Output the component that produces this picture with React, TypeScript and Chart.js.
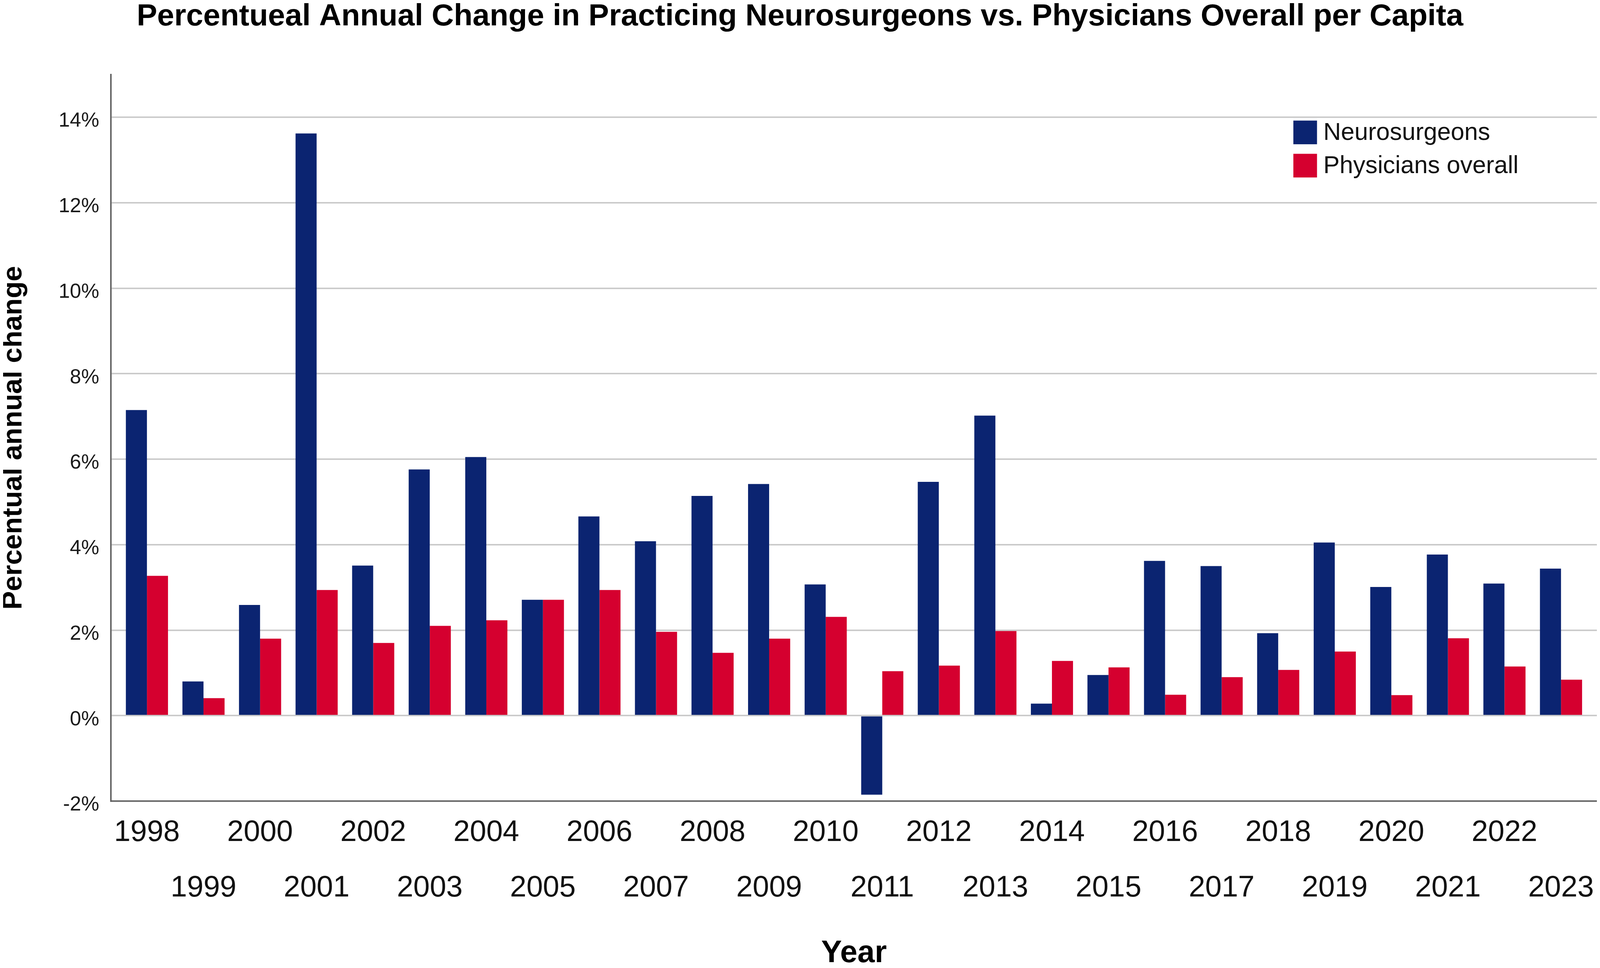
import React, { useEffect, useRef } from 'react';
import { Chart, registerables } from 'chart.js';

Chart.register(...registerables);

const years: number[] = [
  1998, 1999, 2000, 2001, 2002, 2003, 2004, 2005, 2006, 2007, 2008, 2009, 2010,
  2011, 2012, 2013, 2014, 2015, 2016, 2017, 2018, 2019, 2020, 2021, 2022, 2023,
];

const neurosurgeons: number[] = [
  7.15, 0.8, 2.59, 13.62, 3.51, 5.76, 6.05, 2.71, 4.66, 4.08, 5.14, 5.42, 3.07,
  -1.85, 5.47, 7.02, 0.28, 0.95, 3.62, 3.5, 1.93, 4.05, 3.01, 3.77, 3.09, 3.44,
];

const physicians: number[] = [
  3.27, 0.41, 1.8, 2.94, 1.7, 2.1, 2.23, 2.71, 2.94, 1.96, 1.47, 1.8, 2.31,
  1.04, 1.17, 1.98, 1.28, 1.13, 0.49, 0.9, 1.07, 1.5, 0.48, 1.81, 1.15, 0.84,
];

const seriesLabels: string[] = ['Neurosurgeons', 'Physicians overall'];
const seriesColors: string[] = ['#0b2471', '#d5002f'];

const chartTitle = 'Percentueal Annual Change in Practicing Neurosurgeons vs. Physicians Overall per Capita';
const yTitle = 'Percentual annual change';
const xTitle = 'Year';

// design size of the drawing area (reference minus body margins)
const BASE_W = 4311;
const BASE_H = 2461;

const SANS = '"Liberation Sans", Arial, sans-serif';

export default function App() {
  const boxRef = useRef<HTMLDivElement>(null);
  const ref = useRef<HTMLCanvasElement>(null);

  useEffect(() => {
    const canvas = ref.current;
    const box = boxRef.current;
    if (!canvas || !box) return;

    const cw = box.clientWidth || BASE_W;
    const chh = box.clientHeight || BASE_H;
    const kx = cw / BASE_W;
    const ky = chh / BASE_H;
    const kf = Math.min(kx, ky);

    const insetPlugin = {
      id: 'categoryInset',
      afterLayout(chart: any) {
        const x: any = chart.scales.x;
        if (!x) return;
        const n = years.length;
        const inset = 97 / 4019;
        const range = (n - 1) / (1 - 2 * inset);
        x._valueRange = range;
        x._startValue = -inset * range;
      },
    };

    const legendPlugin = {
      id: 'innerLegend',
      afterDraw(chart: any) {
        const ctx = chart.ctx;
        const area = chart.chartArea;
        const x0 = area.right - 821 * kx;
        const y0 = area.top + 118 * ky;
        const bs = 64 * kf;
        const gap = 85 * ky;
        ctx.save();
        ctx.font = `${66 * kf}px ${SANS}`;
        ctx.textBaseline = 'middle';
        ctx.textAlign = 'left';
        chart.data.datasets.forEach((ds: any, i: number) => {
          const y = y0 + i * gap;
          ctx.fillStyle = ds.backgroundColor;
          ctx.fillRect(x0, y, bs, bs);
          ctx.fillStyle = '#111111';
          ctx.fillText(ds.label, x0 + bs + 17 * kx, y + bs / 2 + 2 * kf);
        });
        ctx.restore();
      },
    };

    const chart = new Chart(canvas, {
      type: 'bar',
      data: {
        labels: years.map(String),
        datasets: [
          {
            label: seriesLabels[0],
            data: neurosurgeons,
            backgroundColor: seriesColors[0],
            borderWidth: 0,
            categoryPercentage: 0.745,
            barPercentage: 1.0,
          },
          {
            label: seriesLabels[1],
            data: physicians,
            backgroundColor: seriesColors[1],
            borderWidth: 0,
            categoryPercentage: 0.745,
            barPercentage: 1.0,
          },
        ],
      },
      options: {
        responsive: true,
        maintainAspectRatio: false,
        animation: false,
        layout: { padding: 0 },
        plugins: {
          legend: { display: false },
          tooltip: { enabled: false },
          title: {
            display: true,
            text: chartTitle,
            color: '#000000',
            font: { family: SANS, size: 83 * kf, weight: 'bold', lineHeight: 1 },
            padding: { top: -4 * ky, bottom: 108 * ky },
          },
        },
        scales: {
          x: {
            offset: true,
            grid: { display: false, drawTicks: false },
            border: { display: true, color: '#5f5f5f', width: 4 * kf },
            ticks: {
              autoSkip: false,
              maxRotation: 0,
              minRotation: 0,
              padding: 10 * ky,
              color: '#111111',
              font: { family: SANS, size: 80 * kf, lineHeight: (142 * ky) / (80 * kf) },
              callback: (_v: any, i: number) => (i % 2 === 0 ? [String(years[i]), ''] : ['', String(years[i])]),
            },
            title: {
              display: true,
              text: xTitle,
              color: '#000000',
              font: { family: SANS, size: 84 * kf, weight: 'bold', lineHeight: (58 * ky) / (84 * kf) },
              padding: 0,
            },
            afterFit: (scale: any) => {
              scale.height = 419 * ky;
              scale.paddingLeft = 0;
              scale.paddingRight = 0;
            },
          },
          y: {
            min: -2,
            max: 15,
            grid: {
              drawTicks: false,
              lineWidth: 4 * kf,
              color: (ctx: any) => (ctx.tick && ctx.tick.value === -2 ? 'rgba(0,0,0,0)' : '#c9c9c9'),
            },
            border: { display: true, color: '#5f5f5f', width: 4 * kf },
            ticks: {
              stepSize: 2,
              includeBounds: false,
              padding: 32 * kx,
              labelOffset: 10 * ky,
              color: '#1a1a1a',
              font: { family: SANS, size: 55 * kf },
              callback: (v: any) => `${v}%`,
            },
            title: {
              display: true,
              text: yTitle,
              color: '#000000',
              font: { family: SANS, size: 75 * kf, weight: 'bold', lineHeight: (58 * kx) / (75 * kf) },
              padding: 0,
            },
            afterFit: (scale: any) => {
              scale.width = 292 * kx;
              scale.paddingTop = 0;
              scale.paddingBottom = 0;
            },
          },
        },
      },
      plugins: [insetPlugin, legendPlugin],
    } as any);

    return () => {
      chart.destroy();
    };
  }, []);

  return (
    <div
      ref={boxRef}
      style={{ position: 'relative', width: 'calc(100vw - 16px)', height: 'calc(100vh - 16px)', overflow: 'hidden' }}
    >
      <canvas ref={ref} style={{ display: 'block' }} />
    </div>
  );
}
